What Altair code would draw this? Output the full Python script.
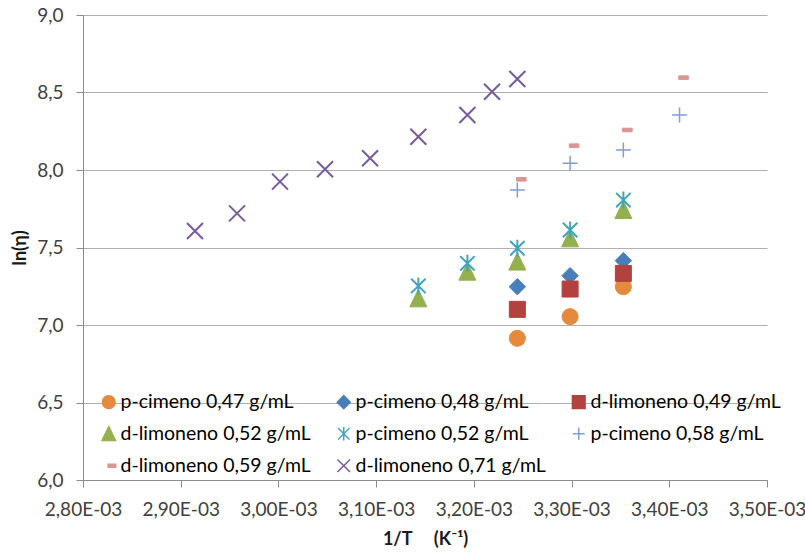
import altair as alt
import pandas as pd

# ---------------- data (x in units of 1e-3 K^-1) ----------------
series_names = [
    "p-cimeno 0,47 g/mL",
    "p-cimeno 0,48 g/mL",
    "d-limoneno 0,49 g/mL",
    "d-limoneno 0,52 g/mL",
    "p-cimeno 0,52 g/mL",
    "p-cimeno 0,58 g/mL",
    "d-limoneno 0,59 g/mL",
    "d-limoneno 0,71 g/mL",
]

x_3 = [3.2445, 3.2985, 3.3530]
x_5 = [3.1432, 3.1934, 3.2445, 3.2985, 3.3530]
x_4 = [3.2445, 3.2985, 3.3530, 3.4105]
x_9 = [2.9146, 2.9576, 3.0016, 3.0477, 3.0938, 3.1432, 3.1934, 3.2186, 3.2445]

y_pc047 = [6.914, 7.054, 7.247]
y_pc048 = [7.247, 7.318, 7.415]
y_dl049 = [7.101, 7.232, 7.333]
y_dl052 = [7.172, 7.344, 7.409, 7.559, 7.742]
y_pc052 = [7.252, 7.398, 7.495, 7.613, 7.806]
y_pc058 = [7.871, 8.043, 8.129, 8.355]
y_dl059 = [7.940, 8.157, 8.258, 8.596]
y_dl071 = [7.606, 7.720, 7.925, 8.005, 8.076, 8.215, 8.355, 8.505, 8.587]

x_lists = [x_3, x_3, x_3, x_5, x_5, x_4, x_4, x_9]
y_lists = [y_pc047, y_pc048, y_dl049, y_dl052, y_pc052, y_pc058, y_dl059, y_dl071]

x_ticks = [2.80, 2.90, 3.00, 3.10, 3.20, 3.30, 3.40, 3.50]
y_ticks = [6.0, 6.5, 7.0, 7.5, 8.0, 8.5, 9.0]

# ---------------- styles ----------------
colors = ["#E48A3C", "#4A7EBB", "#B3423F", "#93B14F",
          "#40A4C0", "#7F9FD3", "#D99694", "#775A9C"]

circle = ("M0.8,0C0.8,0.4418,0.4418,0.8,0,0.8C-0.4418,0.8,-0.8,0.4418,-0.8,0"
          "C-0.8,-0.4418,-0.4418,-0.8,0,-0.8C0.4418,-0.8,0.8,-0.4418,0.8,0Z")
diamond = "M0,-0.82L0.82,0L0,0.82L-0.82,0Z"
square = "M-0.8,-0.8L0.8,-0.8L0.8,0.8L-0.8,0.8Z"
triangle = "M0,-0.9L0.85,0.85L-0.85,0.85Z"
asterisk = "M-0.72,-0.72L0.72,0.72M-0.72,0.72L0.72,-0.72M0,-0.85L0,0.85"
plus = "M-0.75,0L0.75,0M0,-0.75L0,0.75"
dash = "M-0.08,-0.18L0.88,-0.18L0.88,0.18L-0.08,0.18Z"
xmark = "M-0.8,-0.8L0.8,0.8M-0.8,0.8L0.8,-0.8"
shapes = [circle, diamond, square, triangle, asterisk, plus, dash, xmark]

rows = []
for name, xs, ys in zip(series_names, x_lists, y_lists):
    for xv, yv in zip(xs, ys):
        rows.append({"series": name, "x": xv * 1e-3, "y": yv})
df = pd.DataFrame(rows)

legend = alt.Legend(
    orient="none", legendX=16, legendY=377, columns=3, direction="horizontal",
    gridAlign="all",
    symbolSize=250, symbolStrokeWidth=1.5, labelFont="Lato", labelFontSize=19.5,
    labelColor="#000000", labelLimit=400, columnPadding=23, rowPadding=11,
    labelOffset=2, padding=0,
)

x_title = "1/T\u00a0\u00a0\u00a0\u00a0\u00a0(K⁻¹)"

def enc(base):
    return base.encode(
        x=alt.X("x:Q", title=x_title,
                scale=alt.Scale(domain=[0.0028, 0.0035], nice=False, zero=False),
                axis=alt.Axis(values=[v * 1e-3 for v in x_ticks], grid=False,
                              labelOverlap=False, labelFlush=False,
                              labelExpr="replace(replace(format(datum.value,'.2e'),'.',','),'e-','E-0')",
                              labelPadding=13, titleBaseline="middle", titleY=59)),
        y=alt.Y("y:Q", title="ln(η)",
                scale=alt.Scale(domain=[6, 9], nice=False, zero=False),
                axis=alt.Axis(values=y_ticks, grid=True, labelOverlap=False, labelFlush=False,
                              labelExpr="replace(format(datum.value,'.1f'),'.',',')",
                              labelPadding=13, titleBaseline="middle", titleX=-63)),
        fill=alt.Fill("series:N", title=None,
                      scale=alt.Scale(domain=series_names, range=colors), legend=legend),
        stroke=alt.Stroke("series:N", title=None,
                          scale=alt.Scale(domain=series_names, range=colors), legend=legend),
        shape=alt.Shape("series:N", title=None,
                        scale=alt.Scale(domain=series_names, range=shapes), legend=legend),
    )

filled_names = [series_names[i] for i in (0, 1, 2, 3, 6)]
stroked_names = [series_names[i] for i in (4, 7)]

base = alt.Chart(df)
layer_filled = enc(base.mark_point(filled=True, size=400, opacity=1, strokeWidth=1)
                   ).transform_filter(alt.FieldOneOfPredicate(field="series", oneOf=filled_names))
layer_plus = enc(base.mark_point(filled=True, size=400, opacity=1, strokeWidth=1.5)
                 ).transform_filter(alt.FieldEqualPredicate(field="series", equal=series_names[5]))
layer_stroked = enc(base.mark_point(filled=True, size=400, opacity=1, strokeWidth=2)
                    ).transform_filter(alt.FieldOneOfPredicate(field="series", oneOf=stroked_names))

chart = alt.layer(layer_filled, layer_plus, layer_stroked).properties(
    width=684, height=465,
    autosize=alt.AutoSizeParams(type="none"),
    padding={"left": 83, "top": 15, "right": 38, "bottom": 72},
    background="white",
).configure_view(stroke=None).configure_axis(
    labelFont="Lato", labelFontSize=19, labelColor="#404040",
    titleFont="Lato", titleFontSize=18, titleFontWeight="bold", titleColor="#1a1a1a",
    domainColor="#8C8C8C", tickColor="#8C8C8C", tickSize=7,
    gridColor="#B0B0B0", gridWidth=1.2,
)

chart.save("out.html", embed_options={"renderer": "svg", "actions": False})
